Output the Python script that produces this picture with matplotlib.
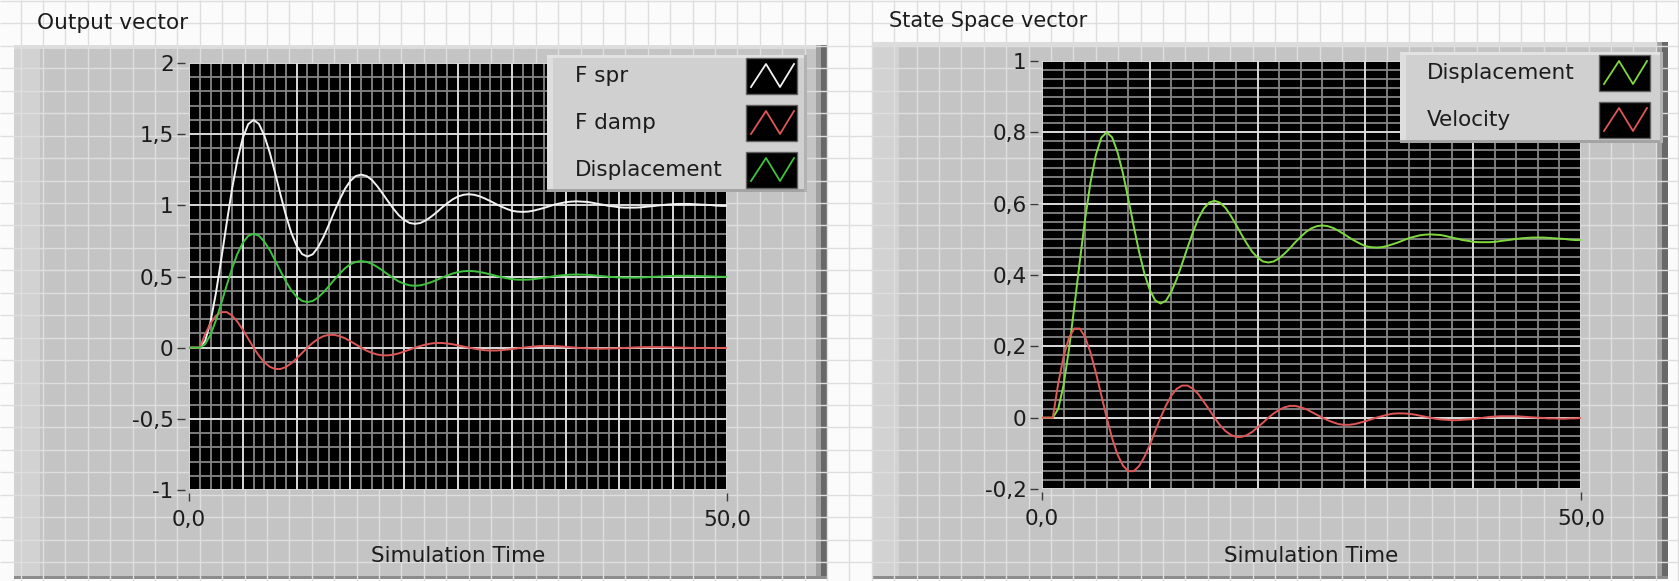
import numpy as np
import matplotlib
matplotlib.use("Agg")
import matplotlib.pyplot as plt
from matplotlib.patches import Rectangle

plt.rcParams["font.family"] = "DejaVu Sans"

# simulation output (step at t = 1)
sim_time = [
    0.0, 0.5, 1.0, 1.5, 2.0, 2.5, 3.0, 3.5, 4.0, 4.5,
    5.0, 5.5, 6.0, 6.5, 7.0, 7.5, 8.0, 8.5, 9.0, 9.5,
    10.0, 10.5, 11.0, 11.5, 12.0, 12.5, 13.0, 13.5, 14.0, 14.5,
    15.0, 15.5, 16.0, 16.5, 17.0, 17.5, 18.0, 18.5, 19.0, 19.5,
    20.0, 20.5, 21.0, 21.5, 22.0, 22.5, 23.0, 23.5, 24.0, 24.5,
    25.0, 25.5, 26.0, 26.5, 27.0, 27.5, 28.0, 28.5, 29.0, 29.5,
    30.0, 30.5, 31.0, 31.5, 32.0, 32.5, 33.0, 33.5, 34.0, 34.5,
    35.0, 35.5, 36.0, 36.5, 37.0, 37.5, 38.0, 38.5, 39.0, 39.5,
    40.0, 40.5, 41.0, 41.5, 42.0, 42.5, 43.0, 43.5, 44.0, 44.5,
    45.0, 45.5, 46.0, 46.5, 47.0, 47.5, 48.0, 48.5, 49.0, 49.5,
    50.0,
]
displacement = [
    0.000, 0.000,
    0.000, 0.024, 0.091, 0.191, 0.311, 0.437, 0.557, 0.660, 0.737, 0.785,
    0.800, 0.786, 0.745, 0.686, 0.614, 0.538, 0.466, 0.404, 0.358, 0.329,
    0.320, 0.328, 0.353, 0.389, 0.432, 0.477, 0.520, 0.558, 0.586, 0.603,
    0.608, 0.603, 0.589, 0.567, 0.541, 0.514, 0.488, 0.465, 0.449, 0.438,
    0.435, 0.438, 0.447, 0.460, 0.475, 0.492, 0.507, 0.521, 0.531, 0.537,
    0.539, 0.537, 0.532, 0.524, 0.515, 0.505, 0.496, 0.488, 0.481, 0.478,
    0.477, 0.478, 0.481, 0.486, 0.491, 0.497, 0.503, 0.507, 0.511, 0.513,
    0.514, 0.513, 0.512, 0.509, 0.505, 0.502, 0.498, 0.496, 0.493, 0.492,
    0.492, 0.492, 0.493, 0.495, 0.497, 0.499, 0.501, 0.503, 0.504, 0.505,
    0.505, 0.505, 0.504, 0.503, 0.502, 0.501, 0.499, 0.498, 0.498,
]
velocity = [
    0.000, 0.000,
    0.000, 0.095, 0.171, 0.224, 0.250, 0.250, 0.226, 0.182, 0.126, 0.063,
    0.000, -0.057, -0.103, -0.134, -0.150, -0.150, -0.136, -0.110, -0.076, -0.038,
    0.000, 0.034, 0.062, 0.081, 0.090, 0.090, 0.081, 0.066, 0.045, 0.023,
    0.000, -0.021, -0.037, -0.048, -0.054, -0.054, -0.049, -0.040, -0.027, -0.014,
    0.000, 0.012, 0.022, 0.029, 0.033, 0.033, 0.029, 0.024, 0.016, 0.008,
    0.000, -0.007, -0.013, -0.018, -0.020, -0.020, -0.018, -0.014, -0.010, -0.005,
    0.000, 0.004, 0.008, 0.011, 0.012, 0.012, 0.011, 0.009, 0.006, 0.003,
    0.000, -0.003, -0.005, -0.006, -0.007, -0.007, -0.006, -0.005, -0.004, -0.002,
    0.000, 0.002, 0.003, 0.004, 0.004, 0.004, 0.004, 0.003, 0.002, 0.001,
    0.000, -0.001, -0.002, -0.002, -0.003, -0.003, -0.002, -0.002, -0.001,
]
f_spr = [
    0.000, 0.000,
    0.000, 0.048, 0.182, 0.382, 0.622, 0.874, 1.114, 1.320, 1.474, 1.570,
    1.600, 1.572, 1.490, 1.372, 1.228, 1.076, 0.932, 0.808, 0.716, 0.658,
    0.640, 0.656, 0.706, 0.778, 0.864, 0.954, 1.040, 1.116, 1.172, 1.206,
    1.216, 1.206, 1.178, 1.134, 1.082, 1.028, 0.976, 0.930, 0.898, 0.876,
    0.870, 0.876, 0.894, 0.920, 0.950, 0.984, 1.014, 1.042, 1.062, 1.074,
    1.078, 1.074, 1.064, 1.048, 1.030, 1.010, 0.992, 0.976, 0.962, 0.956,
    0.954, 0.956, 0.962, 0.972, 0.982, 0.994, 1.006, 1.014, 1.022, 1.026,
    1.028, 1.026, 1.024, 1.018, 1.010, 1.004, 0.996, 0.992, 0.986, 0.984,
    0.984, 0.984, 0.986, 0.990, 0.994, 0.998, 1.002, 1.006, 1.008, 1.010,
    1.010, 1.010, 1.008, 1.006, 1.004, 1.002, 0.998, 0.996, 0.996,
]
f_damp = velocity

out_ticks = [-1, -0.5, 0, 0.5, 1, 1.5, 2]
out_labels = ["-1", "-0,5", "0", "0,5", "1", "1,5", "2"]
ss_ticks = [-0.2, 0, 0.2, 0.4, 0.6, 0.8, 1]
ss_labels = ["-0,2", "0", "0,2", "0,4", "0,6", "0,8", "1"]
time_labels = ["0,0", "50,0"]

W, H = 1679, 581
FS = 15.5
TXT = "#1c1c1c"
WHITE = "#f2f2f2"
RED = "#df5757"
GREEN_L = "#3fc43f"
GREEN_R = "#80da3e"

fig = plt.figure(figsize=(W / 100, H / 100), dpi=100)

# front panel background (pixel coordinates)
bg = fig.add_axes([0, 0, 1, 1])
bg.set_xlim(0, W)
bg.set_ylim(H, 0)
bg.axis("off")
bg.add_patch(Rectangle((0, 0), W, H, fc="#fbfbfb", ec="none"))
bg.vlines(np.arange(20.7, W, 22.4), 0, H, color="#dedede", lw=1)
bg.hlines(np.arange(0.9, H, 22.45), 0, W, color="#dedede", lw=1)


def panel(ax, x0, y0, x1, y1):
    ax.add_patch(Rectangle((x0, y0), x1 - x0, y1 - y0, fc="#c4c4c4", ec="none"))
    ax.add_patch(Rectangle((x0, y0), 26, y1 - y0, fc="#d2d2d2", ec="none"))
    ax.add_patch(Rectangle((x0, y0), x1 - x0, 4, fc="#dcdcdc", ec="none"))
    ax.add_patch(Rectangle((x1 - 11, y0), 5, y1 - y0, fc="#a0a0a0", ec="none"))
    ax.add_patch(Rectangle((x1 - 6, y0), 6, y1 - y0, fc="#686868", ec="none"))
    ax.add_patch(Rectangle((x0, y1 - 3), x1 - x0, 3, fc="#8c8c8c", ec="none"))


panel(bg, 14, 45, 827, 579)
panel(bg, 873, 42, 1668, 579)
bg.text(37, 23, "Output vector", ha="left", va="center", fontsize=15.6, color=TXT)
bg.text(889, 21, "State Space vector", ha="left", va="center", fontsize=15.0, color=TXT)


def graph(x0, y0, x1, y1, ylim, xmin, xmaj, ymin, ymaj, yticks, ylabels):
    ax = fig.add_axes([x0 / W, 1 - y1 / H, (x1 - x0) / W, (y1 - y0) / H])
    ax.set_facecolor("black")
    ax.set_xlim(0, 50)
    ax.set_ylim(*ylim)
    ax.vlines(np.arange(0, 50.001, xmin), ylim[0], ylim[1], color="#868686", lw=1.3, zorder=1)
    ax.hlines(np.arange(ylim[0], ylim[1] + 1e-6, ymin), 0, 50, color="#868686", lw=1.3, zorder=1)
    ax.vlines(np.arange(0, 50.001, xmaj), ylim[0], ylim[1], color="#dedede", lw=1.3, zorder=2)
    ax.hlines(np.arange(ylim[0], ylim[1] + 1e-6, ymaj), 0, 50, color="#dedede", lw=1.3, zorder=2)
    for s in ax.spines.values():
        s.set_visible(False)
    ax.spines["left"].set_position(("outward", 3))
    ax.spines["bottom"].set_position(("outward", 2.5))
    ax.set_xticks([0, 50], time_labels)
    ax.set_yticks(yticks, ylabels)
    ax.tick_params(length=6, width=1, color="#3a3a3a", labelsize=FS, labelcolor=TXT)
    ax.tick_params(axis="y", pad=2)
    ax.tick_params(axis="x", pad=6)
    return ax


ax1 = graph(189, 63, 727, 490, (-1, 2), 1, 5, 0.1, 0.5, out_ticks, out_labels)
ax1.plot(sim_time, f_spr, color=WHITE, lw=1.4, zorder=3)
ax1.plot(sim_time, f_damp, color=RED, lw=1.4, zorder=3)
ax1.plot(sim_time, displacement, color=GREEN_L, lw=1.4, zorder=3)

ax2 = graph(1042, 61, 1581, 489, (-0.2, 1), 2, 10, 0.025, 0.2, ss_ticks, ss_labels)
ax2.plot(sim_time, displacement, color=GREEN_R, lw=1.4, zorder=3)
ax2.plot(sim_time, velocity, color=RED, lw=1.4, zorder=3)

# overlay: axis names and plot legends
fg = fig.add_axes([0, 0, 1, 1], zorder=10)
fg.set_xlim(0, W)
fg.set_ylim(H, 0)
fg.axis("off")
fg.patch.set_alpha(0)
fg.text((189 + 727) / 2, 556, "Simulation Time", ha="center", va="center", fontsize=FS, color=TXT)
fg.text((1042 + 1581) / 2, 556, "Simulation Time", ha="center", va="center", fontsize=FS, color=TXT)


def legend(x0, y0, x1, y1, names, colors, rows, text_x, sw_x):
    fg.add_patch(Rectangle((x0, y0), x1 - x0, y1 - y0, fc="#d0d0d0", ec="none"))
    fg.add_patch(Rectangle((x0, y0), 6, y1 - y0, fc="#dedede", ec="none"))
    fg.add_patch(Rectangle((x0, y0), x1 - x0, 3, fc="#e2e2e2", ec="none"))
    fg.add_patch(Rectangle((x0, y1 - 3), x1 - x0, 3, fc="#a4a4a4", ec="none"))
    fg.add_patch(Rectangle((x1 - 3, y0), 3, y1 - y0, fc="#b2b2b2", ec="none"))
    for name, col, yc in zip(names, colors, rows):
        fg.text(text_x, yc, name, ha="left", va="center", fontsize=FS, color=TXT)
        fg.add_patch(Rectangle((sw_x, yc - 18), 51, 36, fc="black", ec="#606060", lw=1))
        fg.plot([sw_x + 5, sw_x + 20, sw_x + 34, sw_x + 48],
                [yc + 11, yc - 12, yc + 11, yc - 12], color=col, lw=1.3)


legend(547, 55, 807, 192, ["F spr", "F damp", "Displacement"],
       [WHITE, RED, GREEN_L], [76, 123, 170], 575, 746)
legend(1400, 52, 1663, 143, ["Displacement", "Velocity"],
       [GREEN_R, RED], [73, 120], 1427, 1599)

fig.savefig("out.png", dpi=100)
